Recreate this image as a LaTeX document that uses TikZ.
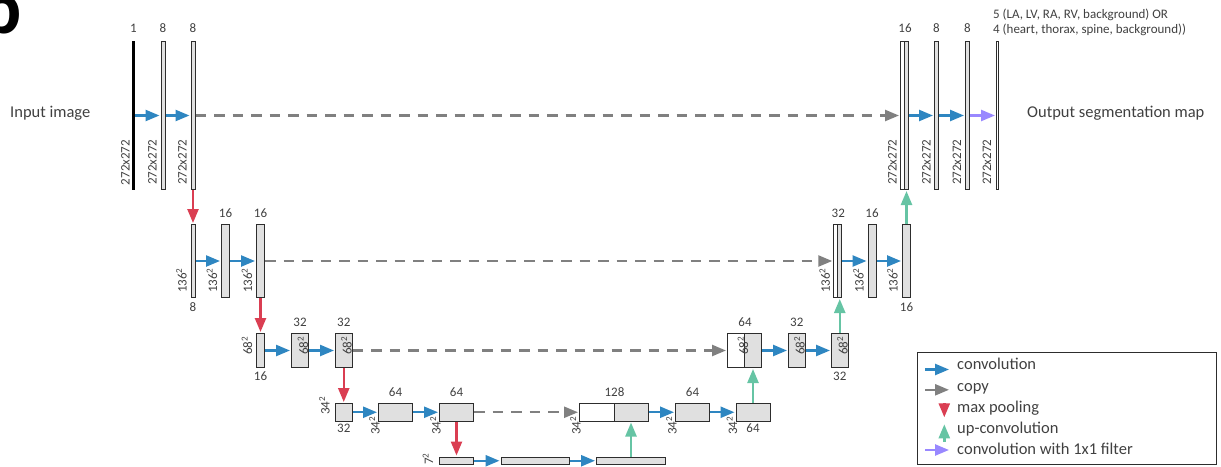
\documentclass[tikz,border=0pt]{standalone}
\usepackage{fontspec}
\setmainfont{Carlito}
\usetikzlibrary{arrows.meta,positioning}

\definecolor{convblue}{RGB}{46,134,193}
\definecolor{poolred}{RGB}{218,62,82}
\definecolor{upgreen}{RGB}{102,196,164}
\definecolor{copygray}{RGB}{128,128,128}
\definecolor{filterpurple}{RGB}{153,136,255}
\definecolor{mapfill}{RGB}{224,224,224}
\definecolor{mapline}{RGB}{45,45,45}
\definecolor{labelgray}{RGB}{64,64,64}

\newcommand{\smallsize}{\fontsize{13}{15}\selectfont}
\newcommand{\bigsize}{\fontsize{16.5}{19}\selectfont}

\tikzset{
  fmap/.style 2 args = {draw = mapline, line width = 1pt, fill = mapfill, inner sep = 0pt,
    minimum width = #1, minimum height = #2},
  emptymap/.style = {fill = white},
  numlab/.style = {font = \smallsize, text = labelgray, inner sep = 0pt},
  dimlab/.style = {numlab, rotate = 90, anchor = base west},
  biglab/.style = {font = \bigsize, text = labelgray, inner sep = 0pt, anchor = base west},
  arr/.style = {line width = 2.4pt, -{Triangle[length = 14pt, width = 11pt]}, shorten > = 1pt},
  conv/.style = {arr, draw = convblue},
  copyarr/.style = {arr, draw = copygray, dash pattern = on 10.5pt off 8pt},
  pool/.style = {arr, draw = poolred},
  upconv/.style = {arr, draw = upgreen},
  onebyone/.style = {arr, draw = filterpurple}
}

\begin{document}
\begin{tikzpicture}[x = 1pt, y = -1pt]
\useasboundingbox (0,0) rectangle (1221,466);

% Panel letter
\node[font = \fontsize{75}{75}\selectfont\bfseries, inner sep = 0pt, anchor = base east] (panel) at (21.5,33) {b};

% Contracting path, level 1
\node[fill = black, inner sep = 0pt, minimum width = 2.5pt, minimum height = 149pt] (l1a) at (133.5,115.5) {};
\node[fmap = {4pt}{148pt}] (l1b) at (163,115.5) {};
\node[fmap = {4pt}{148pt}] (l1c) at (193,115.5) {};

% Contracting path, level 2
\node[fmap = {4pt}{73pt}] (l2a) at (193,261) {};
\node[fmap = {8pt}{73pt}] (l2b) at (225.5,261) {};
\node[fmap = {8pt}{73pt}] (l2c) at (260.5,261) {};

% Contracting path, level 3
\node[fmap = {8pt}{34pt}] (l3a) at (260.5,350.5) {};
\node[fmap = {17pt}{34pt}] (l3b) at (300,350.5) {};
\node[fmap = {16.5pt}{34pt}] (l3c) at (343.75,350.5) {};

% Contracting path, level 4
\node[fmap = {16.5pt}{17.5pt}] (l4a) at (343.75,412.25) {};
\node[fmap = {34pt}{17.5pt}] (l4b) at (395.5,412.25) {};
\node[fmap = {34pt}{17.5pt}] (l4c) at (456.5,412.25) {};

% Bottom level
\node[fmap = {34pt}{7.5pt}] (m5a) at (456.5,460.75) {};
\node[fmap = {68.5pt}{7.5pt}] (m5b) at (535.25,460.75) {};
\node[fmap = {69pt}{7.5pt}] (m5c) at (631,460.75) {};

% Expanding path, level 4
\node[fmap = {34.5pt}{17.5pt}, emptymap] (r4w) at (596.75,412.25) {};
\node[fmap = {34pt}{17.5pt}] (r4g) at (631,412.25) {};
\node[fmap = {34pt}{17.5pt}] (r4b) at (692.5,412.25) {};
\node[fmap = {34pt}{17.5pt}] (r4c) at (753,412.25) {};

% Expanding path, level 3
\node[fmap = {17pt}{34pt}, emptymap] (r3w) at (736,350.5) {};
\node[fmap = {17pt}{34pt}] (r3g) at (753,350.5) {};
\node[fmap = {16.5pt}{34pt}] (r3b) at (796.75,350.5) {};
\node[fmap = {16.5pt}{34pt}] (r3c) at (839.75,350.5) {};

% Expanding path, level 2
\node[fmap = {4pt}{73pt}, emptymap] (r2w) at (835.75,261) {};
\node[fmap = {4pt}{73pt}] (r2g) at (839.75,261) {};
\node[fmap = {8pt}{73pt}] (r2b) at (872,261) {};
\node[fmap = {8pt}{73pt}] (r2c) at (906.5,261) {};

% Expanding path, level 1
\node[fmap = {4pt}{148pt}, emptymap] (r1w) at (902.5,115.5) {};
\node[fmap = {4pt}{148pt}] (r1g) at (906.5,115.5) {};
\node[fmap = {4pt}{148pt}] (r1b) at (936.5,115.5) {};
\node[fmap = {4pt}{148pt}] (r1c) at (967.5,115.5) {};
\node[fmap = {1.5pt}{148pt}, emptymap] (r1out) at (997.25,115.5) {};

% Convolutions
\draw[conv] (l1a) -- (l1b);
\draw[conv] (l1b) -- (l1c);
\draw[conv] (l2a) -- (l2b);
\draw[conv] (l2b) -- (l2c);
\draw[conv] (l3a) -- (l3b);
\draw[conv] (l3b) -- (l3c);
\draw[conv] (l4a) -- (l4b);
\draw[conv] (l4b) -- (l4c);
\draw[conv] (m5a) -- (m5b);
\draw[conv] (m5b) -- (m5c);
\draw[conv] (r4g) -- (r4b);
\draw[conv] (r4b) -- (r4c);
\draw[conv] (r3g) -- (r3b);
\draw[conv] (r3b) -- (r3c);
\draw[conv] (r2g) -- (r2b);
\draw[conv] (r2b) -- (r2c);
\draw[conv] (r1g) -- (r1b);
\draw[conv] (r1b) -- (r1c);
\draw[onebyone] (r1c) -- (r1out);

% Copies
\draw[copyarr] (l1c) -- (r1w);
\draw[copyarr] (l2c) -- (r2w);
\draw[copyarr] (l3c) -- (r3w);
\draw[copyarr] (l4c) -- (r4w);

% Max pooling
\draw[pool] (l1c) -- (l2a);
\draw[pool] (l2c) -- (l3a);
\draw[pool] (l3c) -- (l4a);
\draw[pool] (l4c) -- (m5a);

% Up-convolutions
\draw[upconv] (m5c) -- (r4g);
\draw[upconv] (r4c) -- (r3g);
\draw[upconv] (r3c) -- (r2g);
\draw[upconv] (r2c) -- (r1g);

% Channel numbers
\node[numlab, above = 8.5pt of l1a] (n1a) {1};
\node[numlab, above = 8.5pt of l1b] (n1b) {8};
\node[numlab, above = 8.5pt of l1c] (n1c) {8};
\node[numlab, above = 8.5pt of r1w.north east] (nr1) {16};
\node[numlab, above = 8.5pt of r1b] (nr1b) {8};
\node[numlab, above = 8.5pt of r1c] (nr1c) {8};
\node[numlab, align = left, anchor = north west] (nclass) at (993,8.5) {5 (LA, LV, RA, RV, background) OR\\4 (heart, thorax, spine, background))};
\node[numlab, below = 4.5pt of l2a] (n2a) {8};
\node[numlab, above = 6pt of l2b] (n2b) {16};
\node[numlab, above = 6pt of l2c] (n2c) {16};
\node[numlab, above = 6pt of r2w.north east] (nr2) {32};
\node[numlab, above = 6pt of r2b] (nr2b) {16};
\node[numlab, below = 4.5pt of r2c] (nr2c) {16};
\node[numlab, below = 3.7pt of l3a] (n3a) {16};
\node[numlab, above = 6pt of l3b] (n3b) {32};
\node[numlab, above = 6pt of l3c] (n3c) {32};
\node[numlab, above = 6pt of r3w.north east] (nr3) {64};
\node[numlab, above = 6pt of r3b] (nr3b) {32};
\node[numlab, below = 3.7pt of r3c] (nr3c) {32};
\node[numlab, below = 2pt of l4a] (n4a) {32};
\node[numlab, above = 6pt of l4b] (n4b) {64};
\node[numlab, above = 6pt of l4c] (n4c) {64};
\node[numlab, above = 6pt of r4w.north east] (nr4) {128};
\node[numlab, above = 6pt of r4b] (nr4b) {64};
\node[numlab, below = 2pt of r4c] (nr4c) {64};

% Map sizes
\node[dimlab] (s1a) at ([xshift = -2.5pt, yshift = 5pt]l1a.south west) {272x272};
\node[dimlab] (s1b) at ([xshift = -4pt, yshift = 5pt]l1b.south west) {272x272};
\node[dimlab] (s1c) at ([xshift = -4pt, yshift = 5pt]l1c.south west) {272x272};
\node[dimlab] (sr1) at ([xshift = -3.5pt, yshift = 5pt]r1w.south west) {272x272};
\node[dimlab] (sr1b) at ([xshift = -3.5pt, yshift = 5pt]r1b.south west) {272x272};
\node[dimlab] (sr1c) at ([xshift = -4pt, yshift = 5pt]r1c.south west) {272x272};
\node[dimlab] (sr1o) at ([xshift = -5pt, yshift = 5pt]r1out.south west) {272x272};
\node[dimlab] (s2a) at ([xshift = -4pt, yshift = 5pt]l2a.south west) {136\textsuperscript{2}};
\node[dimlab] (s2b) at ([xshift = -4pt, yshift = 5pt]l2b.south west) {136\textsuperscript{2}};
\node[dimlab] (s2c) at ([xshift = -4pt, yshift = 5pt]l2c.south west) {136\textsuperscript{2}};
\node[dimlab] (sr2) at ([xshift = -3.5pt, yshift = 5pt]r2w.south west) {136\textsuperscript{2}};
\node[dimlab] (sr2b) at ([xshift = -4pt, yshift = 5pt]r2b.south west) {136\textsuperscript{2}};
\node[dimlab] (sr2c) at ([xshift = -4.5pt, yshift = 5pt]r2c.south west) {136\textsuperscript{2}};
\node[dimlab] (s3a) at ([xshift = -4pt, yshift = 13pt]l3a.south west) {68\textsuperscript{2}};
\node[dimlab] (s3b) at ([xshift = -1pt, yshift = 13pt]l3b.south east) {68\textsuperscript{2}};
\node[dimlab] (s3c) at ([xshift = -1pt, yshift = 13pt]l3c.south east) {68\textsuperscript{2}};
\node[dimlab] (sr3) at ([xshift = 4pt, yshift = 13pt]r3g.south west) {68\textsuperscript{2}};
\node[dimlab] (sr3b) at ([xshift = -1pt, yshift = 13pt]r3b.south east) {68\textsuperscript{2}};
\node[dimlab] (sr3c) at ([xshift = -1pt, yshift = 13pt]r3c.south east) {68\textsuperscript{2}};
\node[dimlab] (s4a) at ([xshift = -5.5pt, yshift = 6.5pt]l4a.south west) {34\textsuperscript{2}};
\node[dimlab] (s4b) at ([xshift = 1.5pt, yshift = -13.5pt]l4b.south west) {34\textsuperscript{2}};
\node[dimlab] (s4c) at ([xshift = 1.5pt, yshift = -13.5pt]l4c.south west) {34\textsuperscript{2}};
\node[dimlab] (sr4) at ([xshift = 1.5pt, yshift = -13.5pt]r4w.south west) {34\textsuperscript{2}};
\node[dimlab] (sr4b) at ([xshift = 1.5pt, yshift = -13.5pt]r4b.south west) {34\textsuperscript{2}};
\node[dimlab] (sr4c) at ([xshift = 1.5pt, yshift = -13.5pt]r4c.south west) {34\textsuperscript{2}};
\node[dimlab] (s5a) at ([xshift = -6pt]m5a.south west) {7\textsuperscript{2}};

% Input and output
\node[biglab] (inimg) at (10,117.3) {Input image};
\node[biglab] (outmap) at (1027,117.3) {Output segmentation map};

% Legend
\node[draw = mapline, line width = 1pt, inner sep = 0pt, minimum width = 299.5pt, minimum height = 111.5pt, anchor = north west] (legend) at (916.5,352) {};
\node[biglab] (lconv) at (957,369.5) {convolution};
\node[biglab] (lcopy) at (957,391.5) {copy};
\node[biglab] (lpool) at (957,412.7) {max pooling};
\node[biglab] (lup) at (957,433.3) {up-convolution};
\node[biglab] (lfilter) at (957,454) {convolution with 1x1 filter};
\draw[conv] ([xshift = -32pt]lconv.base west) -- ([xshift = -7pt]lconv.base west);
\draw[arr, draw = copygray] ([xshift = -32pt, yshift = 1.7pt]lcopy.base west) -- ([xshift = -7pt, yshift = 1.7pt]lcopy.base west);
\draw[pool] ([xshift = -12.7pt, yshift = 9.4pt]lpool.base west) -- ([xshift = -12.7pt, yshift = -5.6pt]lpool.base west);
\draw[upconv] ([xshift = -12.7pt, yshift = -8.4pt]lup.base west) -- ([xshift = -12.7pt, yshift = 10pt]lup.base west);
\draw[onebyone] ([xshift = -32pt, yshift = 4pt]lfilter.base west) -- ([xshift = -7pt, yshift = 4pt]lfilter.base west);
\end{tikzpicture}
\end{document}
